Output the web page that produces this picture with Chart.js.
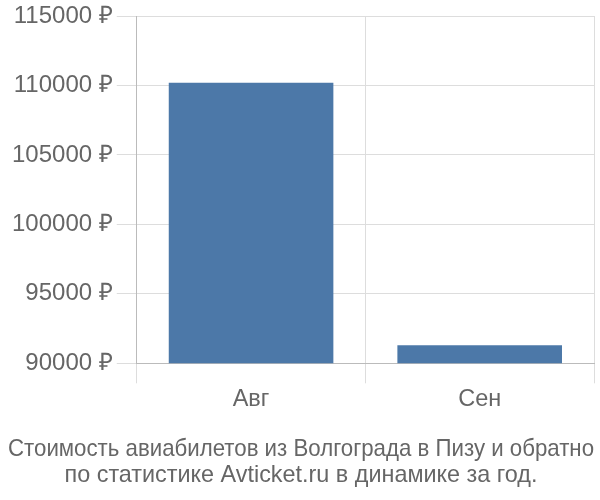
<!DOCTYPE html>
<html>
<head>
<meta charset="utf-8">
<script src="https://cdn.jsdelivr.net/npm/chart.js@4/dist/chart.umd.min.js"></script>
<style>
  body { margin: 0; background: #fff; }
  #wrap { width: 600px; height: 500px; }
</style>
</head>
<body>
<div id="wrap"><canvas id="priceChart" width="600" height="500"></canvas></div>
<script>
const months = ['Авг', 'Сен'];
const prices = [110200, 91300];
const titleLines = [
    'Стоимость авиабилетов из Волгограда в Пизу и обратно',
    'по статистике Avticket.ru в динамике за год.'
];

const fontFamily = '"Liberation Sans", Arial, sans-serif';

const priceChart = new Chart(document.getElementById('priceChart'), {
    type: 'bar',
    data: {
        labels: months,
        datasets: [{
            data: prices,
            backgroundColor: '#4c78a8',
            categoryPercentage: 0.8,
            barPercentage: 0.9
        }]
    },
    options: {
        responsive: false,
        animation: false,
        layout: { padding: { left: 8, right: 6, top: 0, bottom: 12 } },
        plugins: {
            legend: { display: false },
            tooltip: { enabled: false },
            title: {
                display: true,
                position: 'bottom',
                text: titleLines,
                color: '#666',
                font: { family: fontFamily, size: 23.4, weight: 'normal', lineHeight: 1.1 },
                padding: { top: 21, bottom: 0 }
            }
        },
        scales: {
            x: {
                grid: { color: '#dddddd', tickLength: 20, offset: true },
                border: { color: '#bbbbbb' },
                ticks: { color: '#666', font: { family: fontFamily, size: 23.5 }, padding: 2 }
            },
            y: {
                min: 90000,
                max: 115000,
                ticks: {
                    stepSize: 5000,
                    color: '#666',
                    padding: 4,
                    font: { family: fontFamily, size: 24, lineHeight: 1.0 },
                    callback: function(v) { return v + ' ₽'; }
                },
                grid: { color: '#dddddd', tickLength: 20 },
                border: { color: '#bbbbbb' }
            }
        }
    }
});
</script>
</body>
</html>
